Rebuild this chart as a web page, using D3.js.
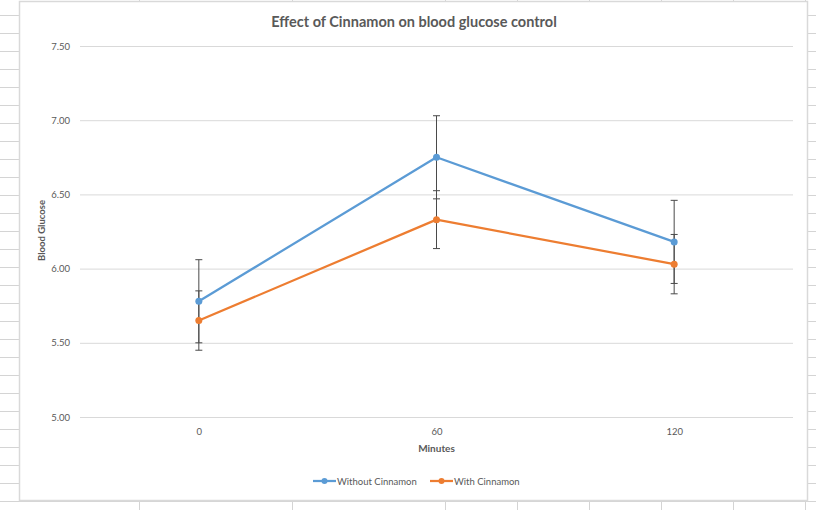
<!DOCTYPE html>
<html>
<head>
  <title>Effect of Cinnamon on blood glucose control</title>
  <script src="https://cdn.jsdelivr.net/npm/d3@7/dist/d3.min.js"></script>
  <style>
    body { margin: 0; background: #fff; }
    svg text { font-family: Lato, 'Open Sans', sans-serif; fill: #595959; }
  </style>
</head>
<body>
<svg id="chart" width="816" height="510"></svg>

<script>
// data
var minutes = ['0', '60', '120'];
var withoutCinnamon = [5.78, 6.75, 6.18];
var withoutErr = [0.28, 0.28, 0.28];
var withCinnamon = [5.65, 6.33, 6.03];
var withErr = [0.2, 0.195, 0.2];
var yTicks = [5.0, 5.5, 6.0, 6.5, 7.0, 7.5];
var seriesNames = ['Without Cinnamon', 'With Cinnamon'];
var colors = ['#5b9bd5', '#ed7d31'];

var svg = d3.select('#chart');

// spreadsheet grid behind the chart object
var sheet = svg.append('g').attr('stroke', '#d4d4d4').attr('stroke-width', 1);
var rowYs = d3.range(15, 510, 18);
var colXs = [139.5, 292.5, 445.5, 517.5, 589.5, 661.5, 733.5, 805.5];
sheet.selectAll('.rowL').data(rowYs).enter().append('line')
  .attr('x1', 0).attr('x2', 19).attr('y1', function(d) { return d + 0.5; }).attr('y2', function(d) { return d + 0.5; });
sheet.selectAll('.rowR').data(rowYs).enter().append('line')
  .attr('x1', 808).attr('x2', 816).attr('y1', function(d) { return d + 0.5; }).attr('y2', function(d) { return d + 0.5; });
sheet.selectAll('.colB').data(colXs).enter().append('line')
  .attr('x1', function(d) { return d; }).attr('x2', function(d) { return d; }).attr('y1', 501).attr('y2', 510);
sheet.selectAll('.colT').data(colXs).enter().append('line')
  .attr('x1', function(d) { return d; }).attr('x2', function(d) { return d; }).attr('y1', 0).attr('y2', 2);
sheet.append('line').attr('x1', 0).attr('x2', 816).attr('y1', 501.5).attr('y2', 501.5);

// chart box
svg.append('rect')
  .attr('x', 19.5).attr('y', 1.5).attr('width', 788).attr('height', 499)
  .attr('fill', '#fff').attr('stroke', '#d9d9d9').attr('stroke-width', 1.5);

var margin = { top: 46, right: 23, bottom: 93, left: 80 },
  width = 816 - margin.left - margin.right,
  height = 510 - margin.top - margin.bottom,
  g = svg.append('g').attr('transform', 'translate(' + margin.left + ',' + margin.top + ')');

var x = d3.scalePoint().domain(minutes).range([0, width]).padding(0.5);
var y = d3.scaleLinear().domain([5, 7.5]).range([height, 0]);

// gridlines + y labels
var yAxis = g.append('g')
  .call(d3.axisLeft(y).tickValues(yTicks).tickSize(-width).tickPadding(10).tickFormat(d3.format('.2f')));
yAxis.select('.domain').remove();
yAxis.selectAll('line').attr('stroke', '#d9d9d9');
yAxis.selectAll('text').attr('font-size', 9.5).attr('fill', '#595959');

var xAxis = g.append('g')
  .attr('transform', 'translate(0,' + height + ')')
  .call(d3.axisBottom(x).tickSize(0).tickPadding(11));
xAxis.select('.domain').remove();
xAxis.selectAll('text').attr('font-size', 9.5).attr('fill', '#595959');

// title and axis titles
svg.append('text')
  .attr('x', 414).attr('y', 27)
  .attr('text-anchor', 'middle')
  .attr('font-size', 14.5).attr('font-weight', 'bold')
  .text('Effect of Cinnamon on blood glucose control');

svg.append('text')
  .attr('x', margin.left + width / 2).attr('y', 452)
  .attr('text-anchor', 'middle')
  .attr('font-size', 10).attr('font-weight', 'bold')
  .text('Minutes');

svg.append('text')
  .attr('transform', 'translate(45,' + (margin.top + height / 2 - 1) + ') rotate(-90)')
  .attr('text-anchor', 'middle')
  .attr('font-size', 9.5).attr('font-weight', 'bold')
  .text('Blood Glucose');

var series = [
  { name: seriesNames[0], values: withoutCinnamon, err: withoutErr, color: colors[0] },
  { name: seriesNames[1], values: withCinnamon, err: withErr, color: colors[1] }
];

// error bars
series.forEach(function(s) {
  var eb = g.append('g').attr('stroke', '#4a4a4a').attr('stroke-width', 1);
  s.values.forEach(function(v, i) {
    var cx = x(minutes[i]);
    var hi = y(v + s.err[i]), lo = y(v - s.err[i]);
    eb.append('line').attr('x1', cx).attr('x2', cx).attr('y1', hi).attr('y2', lo);
    eb.append('line').attr('x1', cx - 3.5).attr('x2', cx + 3.5).attr('y1', hi).attr('y2', hi);
    eb.append('line').attr('x1', cx - 3.5).attr('x2', cx + 3.5).attr('y1', lo).attr('y2', lo);
  });
});

var line = d3.line()
  .x(function(d, i) { return x(minutes[i]); })
  .y(function(d) { return y(d); });

series.forEach(function(s) {
  g.append('path')
    .datum(s.values)
    .attr('fill', 'none')
    .attr('stroke', s.color)
    .attr('stroke-width', 2.25)
    .attr('stroke-linejoin', 'round')
    .attr('d', line);
  g.selectAll(null)
    .data(s.values)
    .enter().append('circle')
    .attr('cx', function(d, i) { return x(minutes[i]); })
    .attr('cy', function(d) { return y(d); })
    .attr('r', 3.5)
    .attr('fill', s.color);
});

// legend
var legendX = [313, 430];
series.forEach(function(s, i) {
  var lg = svg.append('g').attr('transform', 'translate(' + legendX[i] + ',481)');
  lg.append('line').attr('x1', 0).attr('x2', 23).attr('y1', 0).attr('y2', 0)
    .attr('stroke', s.color).attr('stroke-width', 2.25);
  lg.append('circle').attr('cx', 11.5).attr('cy', 0).attr('r', 3).attr('fill', s.color);
  lg.append('text').attr('x', 24).attr('y', 3.5).attr('font-size', 9.5).text(s.name);
});
</script>
</body>
</html>
